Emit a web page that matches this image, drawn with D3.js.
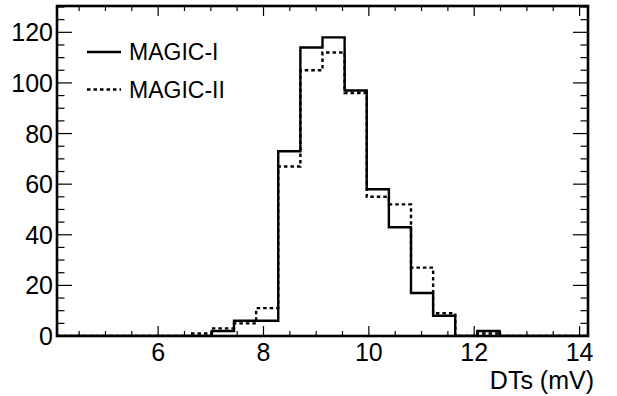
<!DOCTYPE html>
<html>
<head>
<meta charset="utf-8">
<script src="https://cdn.jsdelivr.net/npm/d3@7"></script>
<style>
    body { margin: 0; background: #fff; }
    svg { font-family: "Liberation Sans", Arial, sans-serif; }
    .hist { fill: none; stroke: #000; stroke-width: 2.4px; }
    .hist.magic2 { stroke-dasharray: 3.5, 3; }
    .frame { fill: none; stroke: #000; stroke-width: 2.6px; }
    .tick-line { stroke: #000; stroke-width: 1.2px; }
</style>
</head>
<body>
<div id="chart"></div>
<script>
// histogram binning (24 bins of 0.42 mV starting at 4.08)
const xMin = 4.08;
const binWidth = 0.42;
const nBins = 24;

// bin contents
const magic1 = [0, 0, 0, 0, 0, 0, 0, 2, 6, 6, 73, 114, 118, 97, 58, 43, 17, 8, 0, 2, 0, 0, 0, 0];
const magic2 = [0, 0, 0, 0, 0, 0, 1, 3, 5, 11, 67, 105, 112, 96, 55, 52, 27, 9, 0, 1, 0, 0, 0, 0];

const xTicks = [6, 8, 10, 12, 14];
const yTicks = [0, 20, 40, 60, 80, 100, 120];
const xTitle = "DTs (mV)";
const legendNames = ["MAGIC-I", "MAGIC-II"];

let w = 617, h = 396;
let frame = {left: 57, right: 588, top: 6, bottom: 336};

let svg = d3.select("#chart").append("svg")
    .attr("width", w)
    .attr("height", h);

let x = d3.scaleLinear()
    .domain([xMin, xMin + nBins * binWidth])
    .range([frame.left, frame.right]);

let y = d3.scaleLinear()
    .domain([0, 130.4])
    .range([frame.bottom, frame.top]);

svg.append("clipPath").attr("id", "clip")
    .append("rect")
    .attr("x", frame.left).attr("y", frame.top)
    .attr("width", frame.right - frame.left)
    .attr("height", frame.bottom - frame.top);

// step outline of a histogram: two points per bin
function stepPoints(values) {
    let pts = [];
    values.forEach((v, i) => {
        pts.push([xMin + i * binWidth, v]);
        pts.push([xMin + (i + 1) * binWidth, v]);
    });
    return pts;
}

let line = d3.line()
    .x(d => x(d[0]))
    .y(d => y(d[1]));

let plot = svg.append("g").attr("clip-path", "url(#clip)");

plot.append("path")
    .datum(stepPoints(magic1))
    .attr("class", "hist magic1")
    .attr("d", line);

plot.append("path")
    .datum(stepPoints(magic2))
    .attr("class", "hist magic2")
    .attr("d", line);

// ticks on all four sides, pointing inwards (ROOT style)
let ticks = svg.append("g");

let xMinor = d3.range(4.5, 14.2, 0.5).filter(v => v <= xMin + nBins * binWidth);
xMinor.forEach(v => {
    let major = xTicks.indexOf(v) > -1;
    let len = major ? 10 : 5;
    ticks.append("line").attr("class", "tick-line")
        .attr("x1", x(v)).attr("x2", x(v))
        .attr("y1", frame.bottom).attr("y2", frame.bottom - len);
    ticks.append("line").attr("class", "tick-line")
        .attr("x1", x(v)).attr("x2", x(v))
        .attr("y1", frame.top).attr("y2", frame.top + len);
});

let yMinor = d3.range(0, 131, 5);
yMinor.forEach(v => {
    let major = yTicks.indexOf(v) > -1;
    let len = major ? 15 : 7.5;
    ticks.append("line").attr("class", "tick-line")
        .attr("x1", frame.left).attr("x2", frame.left + len)
        .attr("y1", y(v)).attr("y2", y(v));
    ticks.append("line").attr("class", "tick-line")
        .attr("x1", frame.right).attr("x2", frame.right - len)
        .attr("y1", y(v)).attr("y2", y(v));
});

// tick labels
svg.append("g").selectAll("text")
    .data(xTicks)
    .enter().append("text")
    .attr("x", d => x(d))
    .attr("y", 361)
    .attr("text-anchor", "middle")
    .attr("font-size", "25px")
    .text(d => d);

svg.append("g").selectAll("text")
    .data(yTicks)
    .enter().append("text")
    .attr("x", 53)
    .attr("y", d => y(d) + 9)
    .attr("text-anchor", "end")
    .attr("font-size", "25px")
    .text(d => d);

svg.append("text")
    .attr("x", 594)
    .attr("y", 389)
    .attr("text-anchor", "end")
    .attr("font-size", "25px")
    .text(xTitle);

// frame
svg.append("rect")
    .attr("class", "frame")
    .attr("x", frame.left).attr("y", frame.top)
    .attr("width", frame.right - frame.left)
    .attr("height", frame.bottom - frame.top);

// legend
let legend = svg.append("g");
legendNames.forEach((name, i) => {
    let ly = 52 + i * 37.5;
    legend.append("line")
        .attr("class", "hist " + (i === 0 ? "magic1" : "magic2"))
        .attr("x1", 87).attr("x2", 121)
        .attr("y1", ly).attr("y2", ly);
    legend.append("text")
        .attr("x", 129)
        .attr("y", ly + 8)
        .attr("font-size", "23px")
        .text(name);
});
</script>
</body>
</html>
